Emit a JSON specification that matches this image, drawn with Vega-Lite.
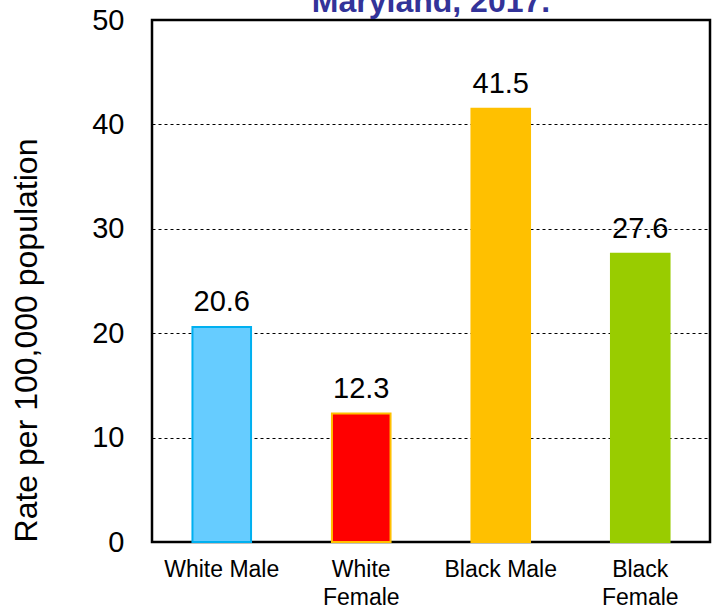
{
  "$schema": "https://vega.github.io/schema/vega-lite/v6.json",
  "autosize": "none",
  "width": 558,
  "height": 522,
  "padding": {"left": 152, "top": 20, "right": 10, "bottom": 66},
  "background": "white",
  "title": {
    "text": "Maryland, 2017.",
    "color": "#333399",
    "font": "Liberation Sans",
    "fontSize": 32,
    "fontWeight": "bold",
    "anchor": "middle",
    "frame": "group",
    "baseline": "alphabetic",
    "offset": -38
  },
  "config": {
    "font": "Liberation Sans",
    "view": {"stroke": "#000000", "strokeWidth": 2.5}
  },
  "data": {
    "values": [
      {"group": "White Male", "rate": 20.6},
      {"group": "White Female", "rate": 12.3},
      {"group": "Black Male", "rate": 41.5},
      {"group": "Black Female", "rate": 27.6}
    ]
  },
  "encoding": {
    "x": {
      "field": "group",
      "type": "nominal",
      "sort": null,
      "scale": {"paddingInner": 0.58, "paddingOuter": 0.29},
      "axis": {
        "title": null,
        "labelAngle": 0,
        "labelFontSize": 23,
        "labelColor": "#000000",
        "labelPadding": 16,
        "labelLineHeight": 28,
        "labelExpr": "indexof(datum.value,'Female')>=0 ? split(datum.value,' ') : datum.value",
        "domain": false,
        "ticks": false
      }
    },
    "y": {
      "field": "rate",
      "type": "quantitative",
      "scale": {"domain": [0, 50]},
      "axis": {
        "title": "Rate per 100,000 population",
        "titleFontSize": 32,
        "titleFontWeight": "normal",
        "titleColor": "#000000",
        "titleAngle": -90,
        "titleAlign": "center",
        "titleBaseline": "alphabetic",
        "titleX": -116,
        "titleY": 320,
        "values": [0, 10, 20, 30, 40, 50],
        "labelFontSize": 29,
        "labelColor": "#000000",
        "labelPadding": 28,
        "domain": false,
        "ticks": false,
        "grid": true,
        "gridColor": "#000000",
        "gridDash": [3, 3],
        "gridWidth": 1
      }
    }
  },
  "layer": [
    {
      "mark": {"type": "bar", "strokeWidth": 2},
      "encoding": {
        "fill": {
          "field": "group",
          "type": "nominal",
          "scale": {
            "domain": ["White Male", "White Female", "Black Male", "Black Female"],
            "range": ["#66CCFF", "#FF0000", "#FFC000", "#99CC00"]
          },
          "legend": null
        },
        "stroke": {
          "field": "group",
          "type": "nominal",
          "scale": {
            "domain": ["White Male", "White Female", "Black Male", "Black Female"],
            "range": ["#00B0F0", "#FFC000", "#FFC000", "#99CC00"]
          },
          "legend": null
        }
      }
    },
    {
      "mark": {"type": "text", "baseline": "alphabetic", "dy": -16, "fontSize": 29, "color": "#000000"},
      "encoding": {
        "text": {"field": "rate", "type": "quantitative", "format": ".1f"}
      }
    }
  ]
}
